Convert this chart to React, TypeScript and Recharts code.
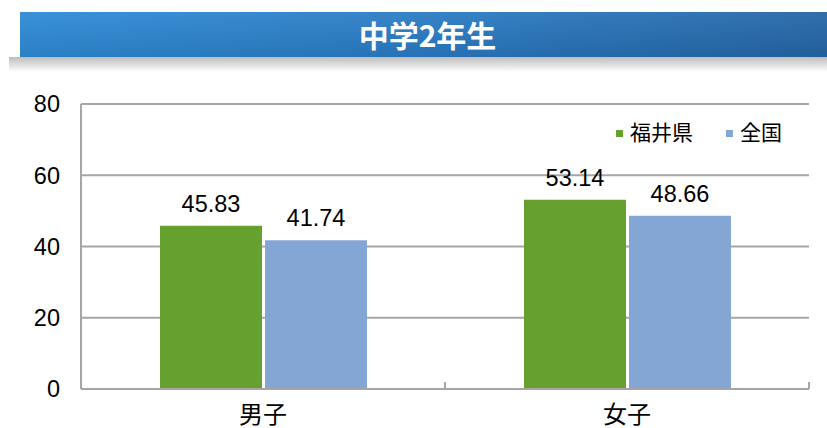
import React from "react";
import { BarChart, Bar, XAxis, YAxis, CartesianGrid, Legend, LabelList } from "recharts";

const categories = ["男子", "女子"];
const fukuiValues = [45.83, 53.14];
const nationalValues = [41.74, 48.66];
const yTicks = [0, 20, 40, 60, 80];
const seriesNames = { fukui: "福井県", national: "全国" };
const seriesOrder = ["fukui", "national"];
const title = "中学2年生";

const data = categories.map((c, i) => ({
  name: c,
  fukui: fukuiValues[i],
  national: nationalValues[i],
}));

const FONT = "'Liberation Sans', Arial, 'Noto Sans CJK JP', sans-serif";
const GRID = "#a6a6a6";
const GREEN = "#66a12f";
const BLUE = "#84a6d4";

const CategoryTick = (props: any) => {
  const { x, y, payload } = props;
  const half = payload && typeof payload.offset === "number" && payload.offset > 0 ? payload.offset : 182;
  const c = payload.coordinate;
  return (
    <g>
      <line x1={c - half} x2={c - half} y1={y - 7} y2={y} stroke={GRID} strokeWidth={2} />
      <line x1={c + half} x2={c + half} y1={y - 7} y2={y} stroke={GRID} strokeWidth={2} />
      <text x={x} y={y + 34} textAnchor="middle" fontSize={24} fontFamily={FONT} fill="#000">
        {payload.value}
      </text>
    </g>
  );
};

const renderLegend = (props: any) => {
  const items = [...(props.payload || [])].sort(
    (a: any, b: any) => seriesOrder.indexOf(a.dataKey) - seriesOrder.indexOf(b.dataKey)
  );
  return (
    <div style={{ display: "flex", alignItems: "center", fontFamily: FONT, fontSize: 21, color: "#000" }}>
      {items.map((p: any, i: number) => (
        <div key={i} style={{ display: "flex", alignItems: "center", marginRight: i === 0 ? 33 : 0 }}>
          <span style={{ display: "inline-block", width: 7, height: 7, background: p.color, marginRight: 7 }} />
          <span style={{ lineHeight: "22px" }}>{p.value}</span>
        </div>
      ))}
    </div>
  );
};

export default function App() {
  return (
    <div style={{ position: "absolute", left: 0, top: 0, width: 827, height: 428, background: "#fff", overflow: "hidden" }}>
      <div
        style={{
          position: "absolute",
          left: 9,
          top: 57,
          width: 818,
          height: 15,
          background: "linear-gradient(180deg, #bdbdbd 0%, #dedede 50%, #ffffff 100%)",
        }}
      />
      <div
        style={{
          position: "absolute",
          left: 20,
          top: 12,
          width: 807,
          height: 45,
          background:
            "linear-gradient(180deg, rgba(255,255,255,0.06) 0%, rgba(0,0,0,0.08) 100%), linear-gradient(90deg, #2e8bd6 0%, #2a7bc4 50%, #2466a6 100%)",
        }}
      />
      <div
        style={{
          position: "absolute",
          left: 0,
          top: 12,
          width: 855,
          height: 45,
          lineHeight: "45px",
          textAlign: "center",
          color: "#fff",
          fontWeight: "bold",
          fontSize: 30,
          fontFamily: "'Noto Sans CJK JP', 'Liberation Sans', sans-serif",
        }}
      >
        {title}
      </div>
      <div style={{ position: "absolute", left: 0, top: 0 }}>
        <BarChart
          width={827}
          height={428}
          data={data}
          margin={{ top: 104, right: 18, left: 0, bottom: 0 }}
          barCategoryGap={79}
          barGap={3}
        >
          <CartesianGrid vertical={false} stroke={GRID} strokeWidth={2} />
          <XAxis
            dataKey="name"
            height={39}
            axisLine={{ stroke: GRID, strokeWidth: 2 }}
            tickLine={false}
            tickSize={0}
            tickMargin={0}
            tick={<CategoryTick />}
            interval={0}
          />
          <YAxis
            width={81}
            domain={[0, 80]}
            ticks={yTicks}
            axisLine={{ stroke: GRID, strokeWidth: 2 }}
            tickLine={false}
            tickSize={0}
            tickMargin={21}
            tick={{ fontSize: 23.5, fontFamily: FONT, fill: "#000" }}
          />
          <Legend
            layout="horizontal"
            verticalAlign="middle"
            align="center"
            content={renderLegend}
            wrapperStyle={{ left: 616, top: 122, width: 210, height: 22 }}
          />
          <Bar dataKey="fukui" name={seriesNames.fukui} fill={GREEN} isAnimationActive={false}>
            <LabelList dataKey="fukui" position="top" offset={14} fontSize={23.5} fontFamily={FONT} fill="#000" />
          </Bar>
          <Bar dataKey="national" name={seriesNames.national} fill={BLUE} isAnimationActive={false}>
            <LabelList dataKey="national" position="top" offset={14} fontSize={23.5} fontFamily={FONT} fill="#000" />
          </Bar>
        </BarChart>
      </div>
    </div>
  );
}
